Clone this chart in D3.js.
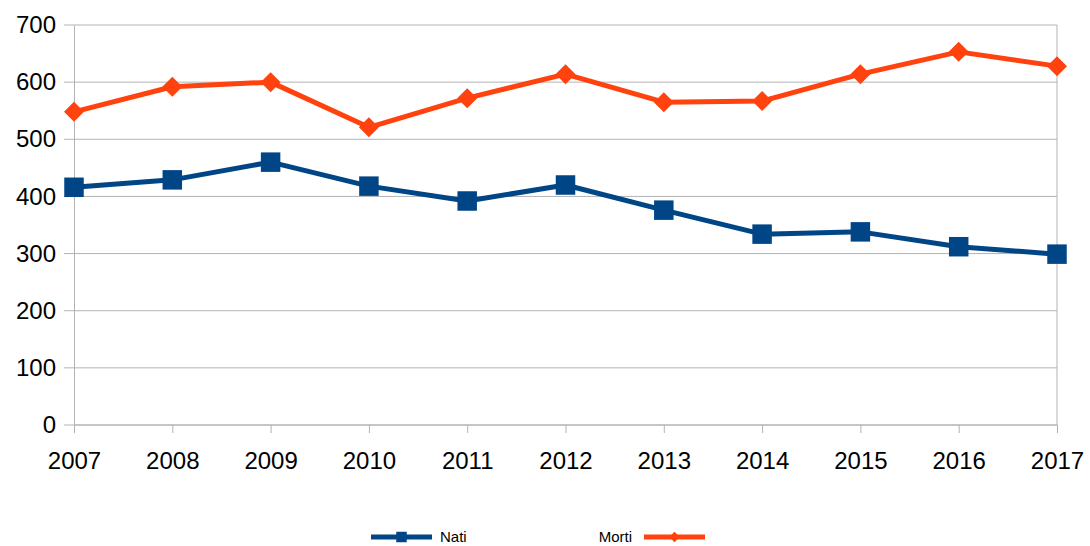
<!DOCTYPE html>
<html>
<head>
<meta charset="utf-8">
<script src="https://cdn.jsdelivr.net/npm/d3@7"></script>
<style>
  body { margin: 0; background: #fff; }
  text { font-family: "Liberation Sans", Arial, sans-serif; }
</style>
</head>
<body>
<div id="chart"></div>
<script>
const years = ["2007", "2008", "2009", "2010", "2011", "2012", "2013", "2014", "2015", "2016", "2017"];
const nati = [416, 429, 460, 418, 392, 420, 376, 334, 338, 312, 299];
const morti = [548, 592, 600, 521, 572, 614, 565, 567, 614, 653, 628];
const yTicks = [0, 100, 200, 300, 400, 500, 600, 700];

const w = 1090, h = 546;
const padLeft = 74, padRight = 1057, padTop = 25, padBottom = 425;

const svg = d3.select("#chart").append("svg")
  .attr("width", w)
  .attr("height", h);

const xScale = d3.scalePoint().domain(years).range([padLeft, padRight]);
const yScale = d3.scaleLinear().domain([0, 700]).range([padBottom, padTop]);

// diamond as a square turned 45 degrees
const diamond = {
  draw(ctx, size) {
    const r = Math.sqrt(size) / 2;
    ctx.moveTo(0, -r);
    ctx.lineTo(r, 0);
    ctx.lineTo(0, r);
    ctx.lineTo(-r, 0);
    ctx.closePath();
  }
};

// grid
svg.append("g")
  .selectAll("line")
  .data(yTicks)
  .enter()
  .append("line")
  .attr("x1", padLeft - 10)
  .attr("x2", padRight)
  .attr("y1", d => yScale(d))
  .attr("y2", d => yScale(d))
  .attr("stroke", "#b3b3b3")
  .attr("stroke-width", 1);

svg.append("line")
  .attr("x1", padRight).attr("x2", padRight)
  .attr("y1", padTop).attr("y2", padBottom)
  .attr("stroke", "#b3b3b3");

// y axis
const yAxis = d3.axisLeft(yScale).tickValues(yTicks).tickSize(0).tickPadding(18);
svg.append("g")
  .attr("transform", `translate(${padLeft}, 0)`)
  .call(yAxis)
  .call(g => g.select(".domain").attr("stroke", "#b3b3b3"))
  .call(g => g.selectAll("text").attr("font-size", 24).attr("fill", "#000").attr("font-family", "Liberation Sans, Arial, sans-serif"));

// x axis
const xAxis = d3.axisBottom(xScale).tickSize(8).tickPadding(19);
svg.append("g")
  .attr("transform", `translate(0, ${padBottom})`)
  .call(xAxis)
  .call(g => g.select(".domain").remove())
  .call(g => g.selectAll("line").attr("stroke", "#b3b3b3"))
  .call(g => g.selectAll("text").attr("font-size", 24).attr("fill", "#000").attr("font-family", "Liberation Sans, Arial, sans-serif"));

svg.append("line")
  .attr("x1", padLeft).attr("x2", padRight)
  .attr("y1", padBottom).attr("y2", padBottom)
  .attr("stroke", "#b3b3b3");

const line = d3.line()
  .x((d, i) => xScale(years[i]))
  .y(d => yScale(d));

const series = [
  { name: "Nati", values: nati, color: "#004586", symbol: d3.symbolSquare, size: 380 },
  { name: "Morti", values: morti, color: "#ff420e", symbol: diamond, size: 400 }
];

series.forEach(s => {
  svg.append("path")
    .datum(s.values)
    .attr("d", line)
    .attr("fill", "none")
    .attr("stroke", s.color)
    .attr("stroke-width", 5)
    .attr("stroke-linejoin", "round");

  svg.append("g")
    .selectAll("path")
    .data(s.values)
    .enter()
    .append("path")
    .attr("d", d3.symbol().type(s.symbol).size(s.size))
    .attr("transform", (d, i) => `translate(${xScale(years[i])}, ${yScale(d)})`)
    .attr("fill", s.color);
});

// legend
const legend = [
  { name: "Nati", color: "#004586", symbol: d3.symbolSquare, size: 110, x1: 371, x2: 432, tx: 440, anchor: "start" },
  { name: "Morti", color: "#ff420e", symbol: diamond, size: 110, x1: 644, x2: 705, tx: 632, anchor: "end" }
];
const ly = 537;
legend.forEach(l => {
  svg.append("line")
    .attr("x1", l.x1).attr("x2", l.x2)
    .attr("y1", ly).attr("y2", ly)
    .attr("stroke", l.color)
    .attr("stroke-width", 5);
  svg.append("path")
    .attr("d", d3.symbol().type(l.symbol).size(l.size))
    .attr("transform", `translate(${(l.x1 + l.x2) / 2}, ${ly})`)
    .attr("fill", l.color);
  svg.append("text")
    .attr("x", l.tx)
    .attr("y", ly + 5)
    .attr("text-anchor", l.anchor)
    .attr("font-size", 15)
    .attr("fill", "#000")
    .text(l.name);
});
</script>
</body>
</html>
